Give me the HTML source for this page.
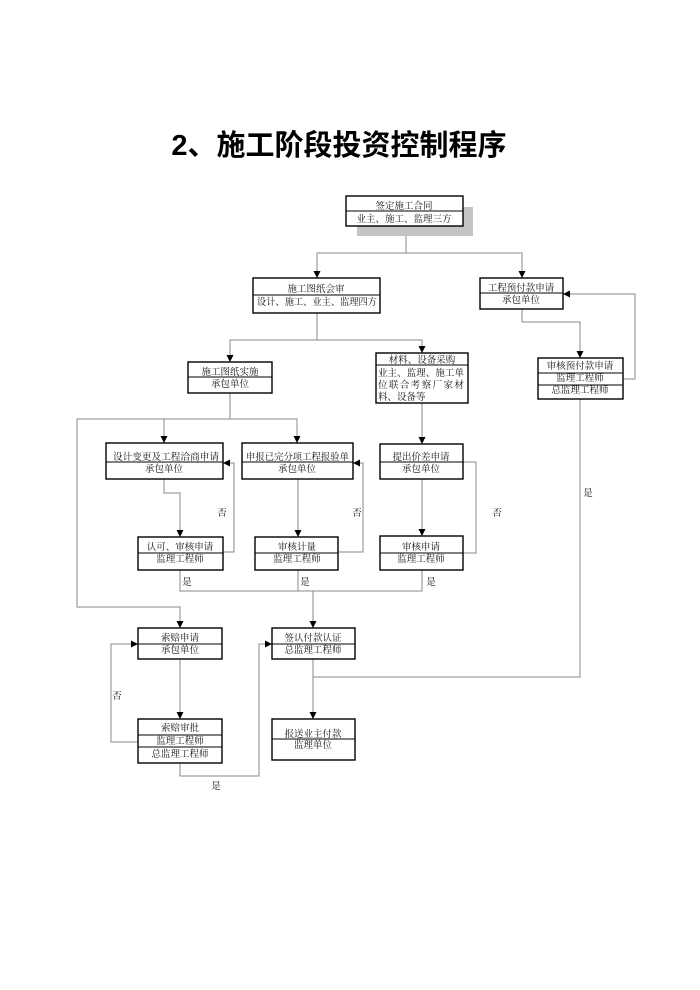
<!DOCTYPE html>
<html><head><meta charset="utf-8"><style>
html,body{margin:0;padding:0;background:#fff;}
svg{display:block;}
text{font-family:"Liberation Serif","Noto Serif CJK SC",serif;font-size:9.5px;fill:#111;}
.t{font-family:"Liberation Sans","Noto Sans CJK SC",sans-serif;font-size:29px;font-weight:bold;fill:#000;}
.b{fill:#fff;stroke:#000;stroke-width:1.4;}
.d{stroke:#000;stroke-width:1;}
.c{fill:none;stroke:#8a8a8a;stroke-width:1;}
.a{fill:#000;}
</style></head><body>
<svg width="700" height="990" viewBox="0 0 700 990" xmlns="http://www.w3.org/2000/svg">
<text class="t" x="339" y="155" text-anchor="middle">2、施工阶段投资控制程序</text>

<!-- connectors -->
<g class="c">
<polyline points="406,226 406,253"/>
<polyline points="317,278 317,253 522,253 522,278"/>
<polyline points="522,309 522,322 580,322 580,358"/>
<polyline points="623,379 635,379 635,294 563,294"/>
<polyline points="317,313 317,340"/>
<polyline points="230,362 230,340 422,340 422,353"/>
<polyline points="230,393 230,419"/>
<polyline points="164,443 164,419 297,419 297,443"/>
<polyline points="230,419 77,419 77,607 180,607 180,628"/>
<polyline points="164,479 164,493 180,493 180,537"/>
<polyline points="223,552 234,552 234,463 223,463"/>
<polyline points="298,479 298,537"/>
<polyline points="338,552 363,552 363,463 353,463"/>
<polyline points="422,403 422,444"/>
<polyline points="422,479 422,536"/>
<polyline points="463,553 476,553 476,462 463,462"/>
<polyline points="180,570 180,591 422,591 422,570"/>
<polyline points="298,570 298,591"/>
<polyline points="313,591 313,628"/>
<polyline points="580,399 580,677 313,677"/>
<polyline points="313,659 313,719"/>
<polyline points="180,659 180,719"/>
<polyline points="138,742 111,742 111,644 138,644"/>
<polyline points="180,763 180,776 259,776 259,644 272,644"/>
</g>

<!-- arrowheads -->
<g class="a">
<polygon points="313.5,271 320.5,271 317,278"/>
<polygon points="518.5,271 525.5,271 522,278"/>
<polygon points="576.5,351 583.5,351 580,358"/>
<polygon points="570,290.5 570,297.5 563,294"/>
<polygon points="418.5,346 425.5,346 422,353"/>
<polygon points="226.5,355 233.5,355 230,362"/>
<polygon points="160.5,436 167.5,436 164,443"/>
<polygon points="293.5,436 300.5,436 297,443"/>
<polygon points="176.5,530 183.5,530 180,537"/>
<polygon points="230,459.5 230,466.5 223,463"/>
<polygon points="294.5,530 301.5,530 298,537"/>
<polygon points="360,459.5 360,466.5 353,463"/>
<polygon points="418.5,437 425.5,437 422,444"/>
<polygon points="418.5,529 425.5,529 422,536"/>
<polygon points="176.5,621 183.5,621 180,628"/>
<polygon points="309.5,621 316.5,621 313,628"/>
<polygon points="309.5,712 316.5,712 313,719"/>
<polygon points="176.5,712 183.5,712 180,719"/>
<polygon points="131,640.5 131,647.5 138,644"/>
<polygon points="265,640.5 265,647.5 272,644"/>
</g>

<!-- box 1 with shadow -->
<rect x="357" y="207" width="116" height="29" fill="#c4c4c4"/>
<rect class="b" x="346" y="196" width="117" height="30"/>
<line class="d" x1="346" y1="211" x2="463" y2="211"/>
<text x="404" y="209" text-anchor="middle">签定施工合同</text>
<text x="404" y="222" text-anchor="middle">业主、施工、监理三方</text>

<!-- 施工图纸会审 -->
<rect class="b" x="253" y="278" width="127" height="35"/>
<line class="d" x1="253" y1="295" x2="380" y2="295"/>
<text x="316" y="292" text-anchor="middle">施工图纸会审</text>
<text x="257" y="305" textLength="120" lengthAdjust="spacingAndGlyphs">设计、施工、业主、监理四方</text>

<!-- 工程预付款申请 -->
<rect class="b" x="480" y="278" width="83" height="31"/>
<line class="d" x1="480" y1="293" x2="563" y2="293"/>
<text x="521" y="291" text-anchor="middle">工程预付款申请</text>
<text x="521" y="303" text-anchor="middle">承包单位</text>

<!-- 材料、设备采购 -->
<rect class="b" x="376" y="353" width="92" height="50"/>
<line class="d" x1="376" y1="365" x2="468" y2="365"/>
<text x="422" y="363" text-anchor="middle">材料、设备采购</text>
<text x="378" y="376" textLength="86" lengthAdjust="spacing">业主、监理、施工单</text>
<text x="378" y="388" textLength="86" lengthAdjust="spacing">位联合考察厂家材</text>
<text x="378" y="400">料、设备等</text>

<!-- 审核预付款申请 -->
<rect class="b" x="538" y="358" width="85" height="41"/>
<line class="d" x1="538" y1="373" x2="623" y2="373"/>
<line class="d" x1="538" y1="385" x2="623" y2="385"/>
<text x="580" y="369" text-anchor="middle">审核预付款申请</text>
<text x="580" y="381" text-anchor="middle">监理工程师</text>
<text x="580" y="393" text-anchor="middle">总监理工程师</text>

<!-- 施工图纸实施 -->
<rect class="b" x="188" y="362" width="84" height="31"/>
<line class="d" x1="188" y1="377" x2="272" y2="377"/>
<text x="230" y="375" text-anchor="middle">施工图纸实施</text>
<text x="230" y="387" text-anchor="middle">承包单位</text>

<!-- 设计变更及工程洽商申请 -->
<rect class="b" x="106" y="443" width="117" height="36"/>
<line class="d" x1="106" y1="462" x2="223" y2="462"/>
<text x="113" y="460" textLength="106" lengthAdjust="spacingAndGlyphs">设计变更及工程洽商申请</text>
<text x="164" y="472" text-anchor="middle">承包单位</text>

<!-- 申报已完分项工程报验单 -->
<rect class="b" x="242" y="443" width="111" height="36"/>
<line class="d" x1="242" y1="462" x2="353" y2="462"/>
<text x="246" y="460" textLength="103" lengthAdjust="spacingAndGlyphs">申报已完分项工程报验单</text>
<text x="297" y="472" text-anchor="middle">承包单位</text>

<!-- 提出价差申请 -->
<rect class="b" x="380" y="444" width="83" height="35"/>
<line class="d" x1="380" y1="462" x2="463" y2="462"/>
<text x="421" y="460" text-anchor="middle">提出价差申请</text>
<text x="421" y="472" text-anchor="middle">承包单位</text>

<!-- 认可、审核申请 -->
<rect class="b" x="138" y="537" width="85" height="33"/>
<line class="d" x1="138" y1="553" x2="223" y2="553"/>
<text x="180" y="550" text-anchor="middle">认可、审核申请</text>
<text x="180" y="562" text-anchor="middle">监理工程师</text>

<!-- 审核计量 -->
<rect class="b" x="255" y="537" width="83" height="33"/>
<line class="d" x1="255" y1="553" x2="338" y2="553"/>
<text x="297" y="550" text-anchor="middle">审核计量</text>
<text x="297" y="562" text-anchor="middle">监理工程师</text>

<!-- 审核申请 -->
<rect class="b" x="380" y="536" width="83" height="34"/>
<line class="d" x1="380" y1="553" x2="463" y2="553"/>
<text x="421" y="550" text-anchor="middle">审核申请</text>
<text x="421" y="562" text-anchor="middle">监理工程师</text>

<!-- 索赔申请 -->
<rect class="b" x="138" y="628" width="84" height="31"/>
<line class="d" x1="138" y1="644" x2="222" y2="644"/>
<text x="180" y="641" text-anchor="middle">索赔申请</text>
<text x="180" y="653" text-anchor="middle">承包单位</text>

<!-- 签认付款认证 -->
<rect class="b" x="272" y="628" width="83" height="31"/>
<line class="d" x1="272" y1="644" x2="355" y2="644"/>
<text x="313" y="641" text-anchor="middle">签认付款认证</text>
<text x="313" y="653" text-anchor="middle">总监理工程师</text>

<!-- 索赔审批 -->
<rect class="b" x="138" y="719" width="84" height="44"/>
<line class="d" x1="138" y1="735" x2="222" y2="735"/>
<line class="d" x1="138" y1="747" x2="222" y2="747"/>
<text x="180" y="731" text-anchor="middle">索赔审批</text>
<text x="180" y="744" text-anchor="middle">监理工程师</text>
<text x="180" y="757" text-anchor="middle">总监理工程师</text>

<!-- 报送业主付款 -->
<rect class="b" x="272" y="719" width="83" height="41"/>
<line class="d" x1="272" y1="739" x2="355" y2="739"/>
<text x="313" y="737" text-anchor="middle">报送业主付款</text>
<text x="313" y="748" text-anchor="middle">监理单位</text>

<!-- labels -->
<text x="222" y="516" text-anchor="middle">否</text>
<text x="357" y="516" text-anchor="middle">否</text>
<text x="497" y="516" text-anchor="middle">否</text>
<text x="588" y="496" text-anchor="middle">是</text>
<text x="187" y="585" text-anchor="middle">是</text>
<text x="305" y="585" text-anchor="middle">是</text>
<text x="431" y="585" text-anchor="middle">是</text>
<text x="117" y="699" text-anchor="middle">否</text>
<text x="216" y="789" text-anchor="middle">是</text>
</svg>
</body></html>
